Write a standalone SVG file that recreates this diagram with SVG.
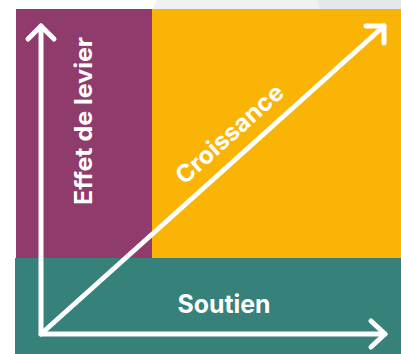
<svg xmlns="http://www.w3.org/2000/svg" width="401" height="354" viewBox="0 0 401 354">
<style>
.lbl{font-family:"Inter","Liberation Sans",sans-serif;font-weight:700;fill:#ffffff;text-anchor:middle}
.arr{fill:none;stroke:#ffffff;stroke-width:5;stroke-linecap:round;stroke-linejoin:round}
</style>
<rect x="0" y="0" width="401" height="354" fill="#ffffff"/>
<polygon points="157,0 401,0 401,9 153,9" fill="#f0f1f1"/>
<polygon points="317,0 401,0 401,9 320,9" fill="#e5e8ea"/>
<g id="levier">
<rect x="16" y="9" width="136" height="249" fill="#8f3b6c"/>
<text class="lbl" font-size="24" transform="translate(92,121) rotate(-90)" textLength="168" lengthAdjust="spacingAndGlyphs">Effet de levier</text>
</g>
<g id="croissance">
<rect x="152" y="9" width="249" height="249" fill="#fab406"/>
</g>
<g id="soutien">
<rect x="15" y="258" width="386" height="96" fill="#37817b"/>
<text class="lbl" x="224" y="313" font-size="25" textLength="93" lengthAdjust="spacingAndGlyphs">Soutien</text>
</g>
<g id="connectors">
<polyline class="arr" points="41,26 41,334 385,334"/>
<polyline class="arr" points="28,39 41,26 54,39"/>
<polyline class="arr" points="371,321 385,334 371,347"/>
<line class="arr" x1="41" y1="334" x2="384" y2="26"/>
<polyline class="arr" points="366,26 384,26 384,43"/>
</g>
<g id="croissance-label">
<text class="lbl" font-size="24" transform="translate(235,140) rotate(-41.9)" textLength="136" lengthAdjust="spacingAndGlyphs">Croissance</text>
</g>
</svg>
